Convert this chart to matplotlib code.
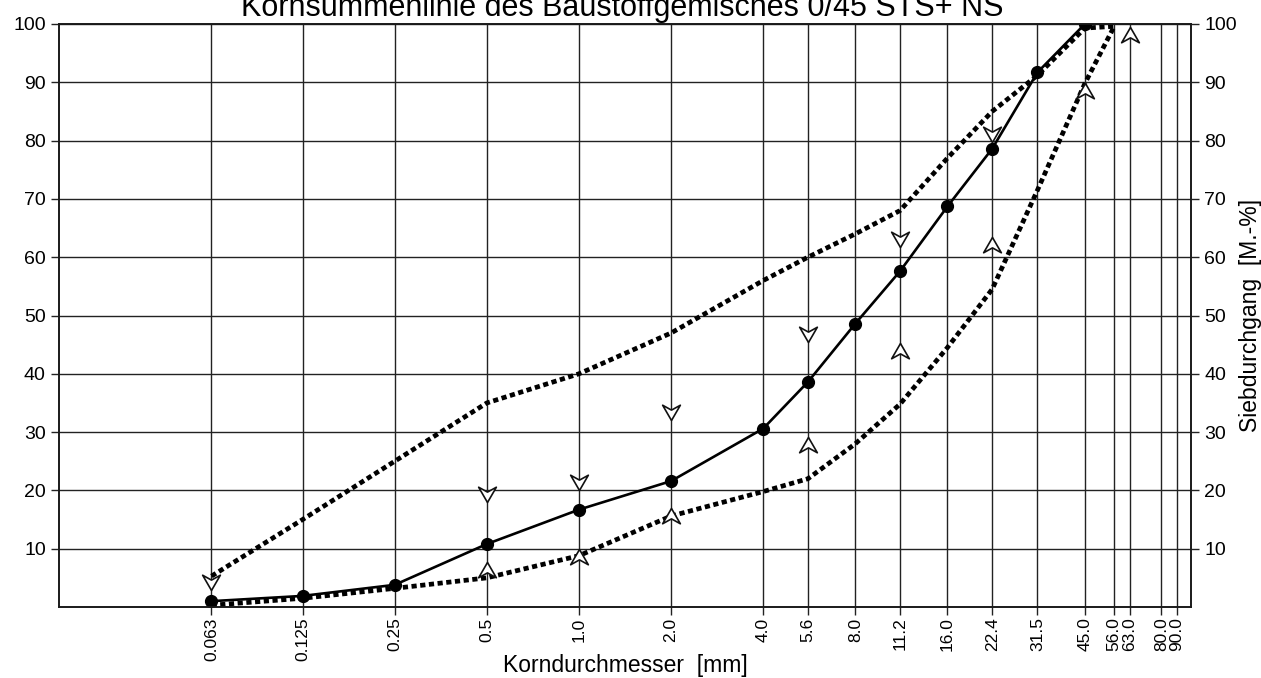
import matplotlib

matplotlib.use("agg")
import matplotlib.pyplot as plt
import numpy as np
from matplotlib.path import Path

plt.rcParams["font.family"] = ["Liberation Sans", "DejaVu Sans"]

# sieve sizes [mm] shown on the x axis
sieve_sizes = [0.063, 0.125, 0.25, 0.5, 1.0, 2.0, 4.0, 5.6, 8.0, 11.2,
               16.0, 22.4, 31.5, 45.0, 56.0, 63.0, 80.0, 90.0]
sieve_labels = ["0.063", "0.125", "0.25", "0.5", "1.0", "2.0", "4.0", "5.6", "8.0",
                "11.2", "16.0", "22.4", "31.5", "45.0", "56.0", "63.0", "80.0", "90.0"]
y_ticks = [10, 20, 30, 40, 50, 60, 70, 80, 90, 100]

# measured grading curve
curve_sizes = [0.063, 0.125, 0.25, 0.5, 1.0, 2.0, 4.0, 5.6, 8.0, 11.2, 16.0, 22.4, 31.5, 45.0]
curve_passing = [1.0, 1.9, 3.8, 10.8, 16.7, 21.6, 30.6, 38.6, 48.6, 57.6, 68.7, 78.6, 91.7, 100.0]

# grading envelope (dotted lines)
limit_sizes = [0.063, 0.125, 0.25, 0.5, 1.0, 2.0, 4.0, 5.6, 8.0, 11.2, 16.0, 22.4, 31.5, 45.0, 56.0]
upper_limit = [5.3, 15.0, 25.0, 35.0, 40.0, 47.0, 56.0, 60.0, 64.0, 68.0, 77.0, 85.0, 91.2, 99.3, 99.6]
lower_limit = [0.3, 1.5, 3.2, 5.0, 8.8, 15.6, 19.8, 22.0, 28.0, 34.8, 44.5, 54.5, 71.5, 89.8, 99.5]

# tolerance arrows
down_sizes = [0.063, 0.5, 1.0, 2.0, 5.6, 11.2, 22.4]
down_values = [3.0, 18.0, 20.0, 32.0, 45.5, 61.7, 79.7]
up_sizes = [0.5, 1.0, 2.0, 5.6, 11.2, 22.4, 45.0, 63.0]
up_values = [7.8, 10.0, 17.0, 29.2, 45.3, 63.5, 89.9, 99.5]


def arrow_marker(pointing_down=True):
    """Open stealth-style arrow head with its tip at the origin."""
    s = 1 if pointing_down else -1
    verts = [(0, 0), (-0.58, s * 1.0), (0, s * 0.68), (0.58, s * 1.0), (0, 0)]
    codes = [Path.MOVETO, Path.LINETO, Path.LINETO, Path.LINETO, Path.CLOSEPOLY]
    return Path(verts, codes)


def create_chart():
    fig = plt.figure(figsize=(12.61, 6.78), dpi=100)
    ax = fig.add_axes([59 / 1261, 71 / 678, 1132 / 1261, 583 / 678])

    ax.set_xscale("log")
    ax.set_xlim(0.02, 100)
    ax.set_ylim(0, 100)

    grid_kw = dict(color="#222222", linewidth=1.0, zorder=1)
    for s in sieve_sizes:
        ax.axvline(s, **grid_kw)
    for v in y_ticks:
        ax.axhline(v, **grid_kw)

    ax.set_xticks(sieve_sizes)
    ax.set_xticklabels(sieve_labels, rotation=90, fontsize=12.5)
    ax.minorticks_off()
    ax.set_yticks(y_ticks)
    ax.tick_params(axis="y", labelsize=14, length=6, width=1.0, color="#222222", pad=3.5)
    ax.tick_params(axis="x", length=6, width=1.0, color="#222222", pad=1.5)

    ax2 = ax.twinx()
    ax2.set_ylim(0, 100)
    ax2.set_yticks(y_ticks)
    ax2.tick_params(axis="y", labelsize=14, length=6, width=1.0, color="#222222", pad=3.5)

    for a in (ax, ax2):
        for sp in a.spines.values():
            sp.set_linewidth(1.2)
            sp.set_color("#1a1a1a")

    dot_style = dict(color="black", linewidth=3.4, linestyle=(0, (1.1, 0.75)),
                     dash_capstyle="butt", zorder=3)
    ax.plot(limit_sizes, upper_limit, **dot_style)
    ax.plot(limit_sizes, lower_limit, **dot_style)

    ax.plot(curve_sizes, curve_passing, color="black", linewidth=1.9,
            marker="o", markersize=8.5, zorder=4)

    arrow_kw = dict(linestyle="none", markersize=22, markerfacecolor="white",
                    markeredgecolor="#111111", markeredgewidth=1.2, zorder=5)
    ax.plot(down_sizes, down_values, marker=arrow_marker(True), **arrow_kw)
    ax.plot(up_sizes, up_values, marker=arrow_marker(False), **arrow_kw)

    fig.text(622 / 1261, 1 - 16 / 678, "Kornsummenlinie des Baustoffgemisches 0/45 STS+ NS",
             ha="center", va="baseline", fontsize=22)
    fig.text(625 / 1261, 6 / 678, "Korndurchmesser  [mm]",
             ha="center", va="baseline", fontsize=16.5)
    fig.text(1250 / 1261, 1 - 315 / 678, "Siebdurchgang  [M.-%]",
             ha="center", va="center", rotation=90, fontsize=16.5)

    fig.savefig("out.png", dpi=100, facecolor="white")
    plt.close(fig)


def main():
    create_chart()


if __name__ == "__main__":
    main()
